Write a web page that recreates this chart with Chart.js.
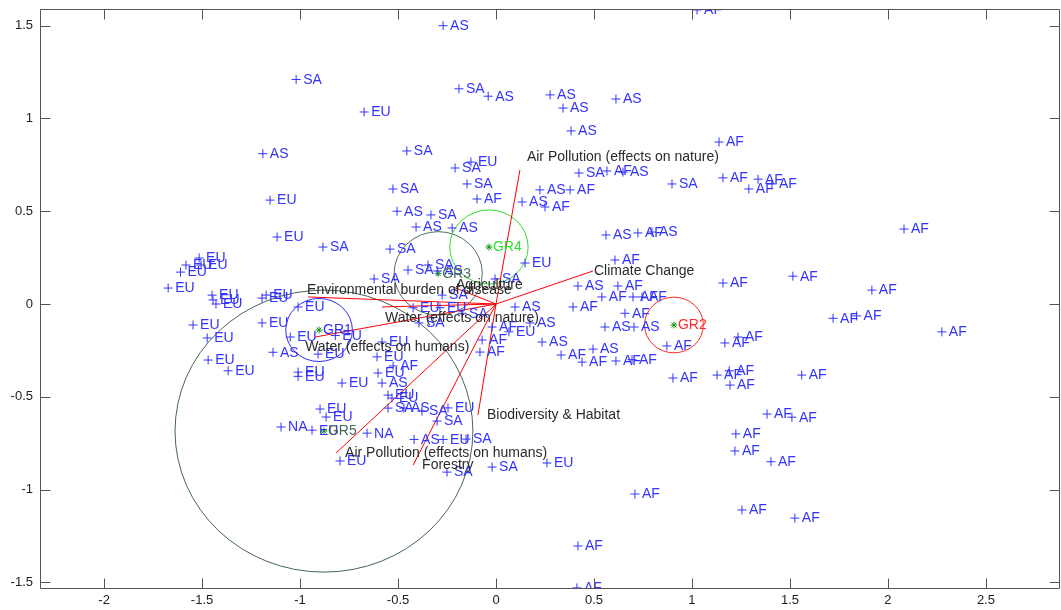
<!DOCTYPE html>
<html>
<head>
<meta charset="utf-8">
<script src="https://cdn.jsdelivr.net/npm/chart.js@4/dist/chart.umd.min.js"></script>
<style>
html, body { margin: 0; padding: 0; background: #fff; }
canvas { display: block; }
</style>
</head>
<body>
<canvas id="biplot" width="1061" height="610"></canvas>
<script>
// scores per region, [x, y]
var AS_PTS = [[-0.27,1.50],[-0.04,1.12],[-1.19,0.81],[0.133,0.55],[0.276,1.127],[0.342,1.056],[0.612,1.105],
  [0.383,0.933],[0.648,0.711],[0.224,0.615],[-0.505,0.50],[-0.408,0.415],[-0.224,0.41],[-0.30,0.178],
  [0.097,-0.016],[0.173,-0.102],[0.561,0.372],[0.796,0.388],[0.418,0.097],[0.556,-0.124],[0.704,-0.124],
  [0.235,-0.205],[0.495,-0.243],[-1.138,-0.26],[-0.582,-0.426],[-0.47,-0.561],[-0.418,-0.73]];
var SA_PTS = [[-1.02,1.21],[-0.189,1.16],[-0.455,0.825],[-0.209,0.733],[-0.148,0.647],[-0.526,0.62],
  [0.423,0.706],[0.898,0.647],[-0.332,0.48],[-0.883,0.307],[-0.541,0.296],[-0.622,0.135],[-0.449,0.183],
  [-0.347,0.21],[-0.005,0.135],[-0.275,0.048],[-0.173,-0.05],[-0.393,-0.102],[-0.551,-0.561],
  [-0.378,-0.577],[-0.301,-0.631],[-0.153,-0.728],[-0.25,-0.906],[-0.02,-0.879]];
var EU_PTS = [[-0.673,1.035],[-0.128,0.765],[-1.153,0.56],[-1.117,0.361],[0.148,0.221],[-1.515,0.248],
  [-1.505,0.21],[-1.582,0.21],[-1.61,0.172],[-1.673,0.086],[-1.449,0.048],[-1.444,0.022],[-1.429,0.0],
  [-1.173,0.048],[-1.194,0.032],[-1.01,-0.016],[-0.423,-0.02],[-0.286,-0.02],[0.066,-0.15],[-1.546,-0.113],
  [-1.194,-0.102],[-1.474,-0.183],[-1.05,-0.178],[-0.82,-0.17],[-1.469,-0.302],[-1.367,-0.36],[-0.908,-0.27],
  [-0.582,-0.205],[-0.607,-0.285],[-1.01,-0.367],[-1.01,-0.39],[-0.602,-0.372],[-0.786,-0.426],
  [-0.551,-0.491],[-0.531,-0.507],[-0.898,-0.566],[-0.867,-0.609],[-0.939,-0.68],[-0.245,-0.56],
  [-0.27,-0.73],[-0.796,-0.846],[0.26,-0.857]];
var NA_PTS = [[-1.097,-0.663],[-0.658,-0.696]];
var AF_PTS = [[1.026,1.585],[-0.097,0.566],[1.138,0.873],[0.566,0.717],[1.158,0.68],[1.337,0.673],[1.29,0.62],
  [1.408,0.647],[0.378,0.615],[0.25,0.523],[0.724,0.383],[0.607,0.237],[0.622,0.097],[0.54,0.038],
  [0.699,0.038],[0.745,0.038],[0.393,-0.016],[0.658,-0.05],[0.872,-0.226],[0.332,-0.275],[0.439,-0.313],
  [0.612,-0.307],[0.694,-0.30],[0.903,-0.399],[1.128,-0.383],[1.19,-0.36],[1.194,-0.437],[1.168,-0.21],
  [1.235,-0.178],[1.158,0.113],[1.515,0.15],[2.082,0.404],[1.918,0.075],[1.72,-0.077],[1.84,-0.064],
  [2.275,-0.15],[1.56,-0.383],[-0.02,-0.124],[-0.071,-0.194],[-0.082,-0.259],[-0.525,-0.334],
  [1.383,-0.593],[1.51,-0.61],[1.224,-0.70],[1.219,-0.792],[1.403,-0.85],[1.255,-1.11],[1.525,-1.154],
  [0.709,-1.024],[0.418,-1.304],[0.413,-1.53]];

// loadings
var VEC_NAMES = ['Air Pollution (effects on nature)','Climate Change','Agriculture','Environmental burden of disease',
  'Water (effects on nature)','Water (effects on humans)','Air Pollution (effects on humans)','Forestry','Biodiversity & Habitat'];
var VEC_X = [0.122, 0.495, -0.215, -0.959, -0.582, -0.923, -0.816, -0.423, -0.092];
var VEC_Y = [0.722, 0.178, 0.09, 0.038, -0.016, -0.178, -0.803, -0.868, -0.598];

// cluster centres and radii
var GROUP_NAMES = ['GR1','GR2','GR3','GR4','GR5'];
var GROUP_X = [-0.903, 0.908, -0.295, -0.036, -0.878];
var GROUP_Y = [-0.14, -0.113, 0.165, 0.307, -0.685];
var GROUP_R = [0.17, 0.15, 0.225, 0.2, 0.76];

var X_TICKS = [-2, -1.5, -1, -0.5, 0, 0.5, 1, 1.5, 2, 2.5];
var Y_TICKS = [-1.5, -1, -0.5, 0, 0.5, 1, 1.5];

// styling
var BLUE = '#3333ff';
var GROUP_COLORS = ['#2a2aff', '#ff2a2a', '#4b6e5e', '#2ee02e', '#45665a'];
var VEC_DX = [7, 1, 2, -1, 3, -10, 9, 9, 9];
var VEC_DY = [-13, 0, -2, -7, 11, 10, 0, 0, 0];
var FONT = "Arial, 'Liberation Sans', Helvetica, sans-serif";

Chart.defaults.font.family = FONT;

function toXY(arr) {
    return arr.map(function (p) { return { x: p[0], y: p[1] }; });
}

function regionSet(name, arr) {
    return {
        type: 'scatter', label: name, tag: 'region', data: toXY(arr),
        pointStyle: 'cross', pointRadius: 4.5, pointHoverRadius: 4.5,
        borderColor: BLUE, backgroundColor: BLUE, borderWidth: 1, order: 1
    };
}

var datasets = [
    regionSet('AS', AS_PTS), regionSet('SA', SA_PTS), regionSet('EU', EU_PTS),
    regionSet('AF', AF_PTS), regionSet('NA', NA_PTS)
];

for (var i = 0; i < VEC_NAMES.length; i++) {
    datasets.push({
        type: 'line', label: VEC_NAMES[i], tag: 'vector', idx: i,
        data: [{ x: 0, y: 0 }, { x: VEC_X[i], y: VEC_Y[i] }],
        borderColor: '#ff0000', borderWidth: 1, pointRadius: 0, fill: false, order: 3
    });
}

datasets.push({
    type: 'scatter', label: 'groups', tag: 'group',
    data: GROUP_X.map(function (x, k) { return { x: x, y: GROUP_Y[k] }; }),
    pointStyle: 'star', pointRadius: 3.5, borderColor: '#119911', borderWidth: 1, order: 2
});

var decorations = {
    id: 'decorations',
    beforeDatasetsDraw: function (chart) {
        var ctx = chart.ctx, xs = chart.scales.x, ys = chart.scales.y, a = chart.chartArea;
        ctx.save();
        ctx.beginPath();
        ctx.rect(a.left, a.top, a.right - a.left, a.bottom - a.top);
        ctx.clip();
        for (var k = 0; k < GROUP_X.length; k++) {
            var cx = xs.getPixelForValue(GROUP_X[k]);
            var cy = ys.getPixelForValue(GROUP_Y[k]);
            var rx = Math.abs(xs.getPixelForValue(GROUP_X[k] + GROUP_R[k]) - cx);
            var ry = Math.abs(ys.getPixelForValue(GROUP_Y[k] + GROUP_R[k]) - cy);
            ctx.beginPath();
            ctx.ellipse(cx, cy, rx, ry, 0, 0, Math.PI * 2);
            ctx.strokeStyle = GROUP_COLORS[k];
            ctx.lineWidth = 1;
            ctx.stroke();
        }
        ctx.restore();
    },
    afterDatasetsDraw: function (chart) {
        var ctx = chart.ctx, a = chart.chartArea;
        ctx.save();
        ctx.beginPath();
        ctx.rect(a.left, a.top, a.right - a.left, a.bottom - a.top);
        ctx.clip();
        ctx.textBaseline = 'middle';
        ctx.textAlign = 'left';
        chart.data.datasets.forEach(function (ds, di) {
            var meta = chart.getDatasetMeta(di);
            if (ds.tag === 'vector') {
                var tip = meta.data[1];
                ctx.font = '14px ' + FONT;
                ctx.fillStyle = '#2a2a2a';
                ctx.fillText(ds.label, tip.x + VEC_DX[ds.idx], tip.y + VEC_DY[ds.idx]);
            } else if (ds.tag === 'region') {
                ctx.font = '14px ' + FONT;
                ctx.fillStyle = BLUE;
                meta.data.forEach(function (pt) {
                    ctx.fillText(ds.label, pt.x + 7, pt.y + 0.5);
                });
            } else if (ds.tag === 'group') {
                ctx.font = '14px ' + FONT;
                meta.data.forEach(function (pt, k) {
                    ctx.fillStyle = GROUP_COLORS[k];
                    ctx.fillText(GROUP_NAMES[k], pt.x + 4, pt.y + 0.5);
                });
            }
        });
        ctx.restore();
    },
    afterDraw: function (chart) {
        // matlab style box with inward ticks
        var ctx = chart.ctx, a = chart.chartArea, xs = chart.scales.x, ys = chart.scales.y;
        var L = Math.round(a.left) + 0.5, R = Math.round(a.right) - 0.5;
        var T = Math.round(a.top) + 0.5, B = Math.round(a.bottom) - 0.5;
        ctx.save();
        ctx.strokeStyle = '#555';
        ctx.lineWidth = 1;
        ctx.beginPath();
        ctx.rect(L, T, R - L, B - T);
        X_TICKS.forEach(function (v) {
            var px = Math.round(xs.getPixelForValue(v)) + 0.5;
            ctx.moveTo(px, B); ctx.lineTo(px, B - 10);
            ctx.moveTo(px, T); ctx.lineTo(px, T + 10);
        });
        Y_TICKS.forEach(function (v) {
            var py = Math.round(ys.getPixelForValue(v)) + 0.5;
            ctx.moveTo(L, py); ctx.lineTo(L + 10, py);
            ctx.moveTo(R, py); ctx.lineTo(R - 10, py);
        });
        ctx.stroke();
        ctx.restore();
    }
};

function fmt(v) { return String(+v.toFixed(2)); }

new Chart(document.getElementById('biplot'), {
    type: 'scatter',
    data: { datasets: datasets },
    options: {
        responsive: false,
        devicePixelRatio: 1,
        animation: false,
        events: [],
        layout: { autoPadding: false, padding: { top: 9, right: 1, left: 0, bottom: 0 } },
        plugins: { legend: { display: false }, tooltip: { enabled: false } },
        scales: {
            x: {
                type: 'linear', min: -2.327, max: 2.878,
                afterBuildTicks: function (s) { s.ticks = X_TICKS.map(function (v) { return { value: v }; }); },
                afterFit: function (s) { s.height = 21; s.paddingLeft = 0; s.paddingRight = 0; },
                grid: { display: false, drawTicks: false },
                border: { display: false },
                ticks: { color: '#222', font: { size: 13 }, padding: 4, maxRotation: 0, autoSkip: false, callback: fmt }
            },
            y: {
                type: 'linear', min: -1.536, max: 1.59,
                afterBuildTicks: function (s) { s.ticks = Y_TICKS.map(function (v) { return { value: v }; }); },
                afterFit: function (s) { s.width = 40; s.paddingTop = 0; s.paddingBottom = 0; },
                grid: { display: false, drawTicks: false },
                border: { display: false },
                ticks: { color: '#222', font: { size: 13 }, padding: 7, autoSkip: false, callback: fmt }
            }
        }
    },
    plugins: [decorations]
});
</script>
</body>
</html>
